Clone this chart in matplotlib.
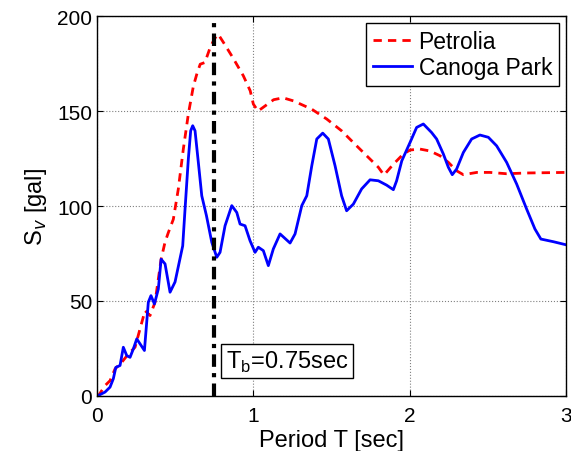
import matplotlib
matplotlib.use("Agg")
import matplotlib.pyplot as plt

plt.rcParams['font.family'] = ['Liberation Sans', 'DejaVu Sans']

# Petrolia
T_pet = [0, 0.008, 0.051, 0.083, 0.115, 0.158, 0.2, 0.243, 0.275, 0.307, 0.339, 0.371, 0.41, 0.435,
         0.456, 0.488, 0.52, 0.552, 0.584, 0.616, 0.64, 0.66, 0.69, 0.72, 0.75, 0.775, 0.81,
         0.87, 0.936, 0.98, 1.0, 1.03, 1.08, 1.13, 1.19, 1.256, 1.374, 1.47, 1.565, 1.65, 1.736,
         1.8, 1.836, 1.896, 1.96, 2.003, 2.066, 2.13, 2.194, 2.248, 2.3, 2.344, 2.43, 2.514,
         2.621, 2.749, 3.0]
S_pet = [0, 0, 5.4, 8, 14.2, 17.7, 22, 25.6, 35.3, 44.9, 42.3, 49.3, 72, 81,
         86, 93, 109, 130, 148.4, 163, 170, 174.7, 175.6, 182.6, 188, 190.5, 186,
         178, 168.6, 160.7, 153.7, 150, 153, 156, 157, 155.4, 151, 145.8, 139.6, 132.6, 125.6,
         120.4, 116.3, 122, 127.4, 129.5, 130, 129, 126.5, 123, 118.6, 116.5, 117.7, 117.7,
         117, 117.4, 117.7]

# Canoga Park
T_can = [0, 0.008, 0.051, 0.083, 0.104, 0.12, 0.147, 0.168, 0.19, 0.211, 0.232, 0.254, 0.275,
         0.303, 0.328, 0.345, 0.367, 0.392, 0.41, 0.435, 0.467, 0.499, 0.548, 0.563, 0.584,
         0.599, 0.612, 0.627, 0.648, 0.67, 0.70, 0.734, 0.766, 0.787, 0.819, 0.862, 0.894,
         0.915, 0.947, 0.979, 1.011, 1.032, 1.064, 1.096, 1.128, 1.171, 1.235, 1.267, 1.31,
         1.342, 1.374, 1.406, 1.444, 1.48, 1.523, 1.565, 1.597, 1.64, 1.693, 1.747, 1.8, 1.853,
         1.896, 1.917, 1.95, 2.003, 2.045, 2.088, 2.141, 2.173, 2.216, 2.248, 2.273, 2.301,
         2.344, 2.397, 2.45, 2.504, 2.557, 2.621, 2.685, 2.749, 2.802, 2.84, 2.92, 3.0]
S_can = [0, 0.2, 2, 4.6, 9, 15, 16, 25.6, 21.2, 20.3, 24.7, 30, 27.4,
         23.9, 49.3, 52.8, 48.4, 56.3, 72, 69.5, 54.6, 60, 79, 98.4, 124.7,
         139.6, 142.3, 139.6, 123, 105.4, 94.9, 80.9, 73, 75.6, 89.6, 100.2, 96.6,
         90.5, 89.6, 81.7, 75.6, 78.3, 76.5, 68.6, 77.4, 85.3, 80.5, 85.3, 100.2,
         105.4, 121.2, 135.3, 138.4, 135.3, 121.2, 105.4, 97.5, 101, 109, 113.8, 113.3, 111,
         108.6, 113.3, 123.8, 133.5, 141.4, 143.2, 138.7, 135.3, 127.4, 120.4, 116.5, 119.5,
         128.2, 135.3, 137.4, 136.2, 131.7, 123, 111.6, 98.4, 87.9, 82.6, 81.2, 79.6]

Tb = 0.75
x_ticks = [0, 1, 2, 3]
y_ticks = [0, 50, 100, 150, 200]

fig = plt.figure(figsize=(5.71, 4.52), dpi=100)
ax = fig.add_axes([0.170, 0.122, 0.821, 0.840])

ax.plot(T_pet, S_pet, color='red', linestyle='--', linewidth=2, label='Petrolia', dashes=(3, 2.2))
ax.plot(T_can, S_can, color='blue', linestyle='-', linewidth=2, label='Canoga Park')
ax.plot([Tb, Tb], [0, 200], color='black', linestyle='-.', linewidth=3, dashes=(3, 1.5, 1, 1.5))

ax.set_xlim(0, 3)
ax.set_ylim(0, 200)
ax.set_xticks(x_ticks)
ax.set_yticks(y_ticks)
ax.tick_params(direction='in', top=True, right=True, labelsize=15, length=4)
ax.tick_params(axis='x', pad=7)
ax.grid(True, linestyle=':', color='gray', linewidth=0.8)
for s in ax.spines.values():
    s.set_linewidth(1)

ax.set_xlabel('Period T [sec]', fontsize=17, labelpad=3)
ax.set_ylabel('S$_v$ [gal]', fontsize=17, labelpad=6)

ax.text(0.825, 18.4, 'T$_\\mathregular{b}$=0.75sec', fontsize=17, ha='left', va='center',
        bbox=dict(boxstyle='square,pad=0.2', facecolor='white', edgecolor='black', linewidth=1))

leg = ax.legend(loc='upper right', fontsize=16.5, fancybox=False, edgecolor='black',
                framealpha=1, handlelength=1.7, handletextpad=0.3, borderpad=0.3,
                labelspacing=0.15, borderaxespad=0.3)
leg.get_frame().set_linewidth(1)

fig.savefig('out.png', dpi=100)
